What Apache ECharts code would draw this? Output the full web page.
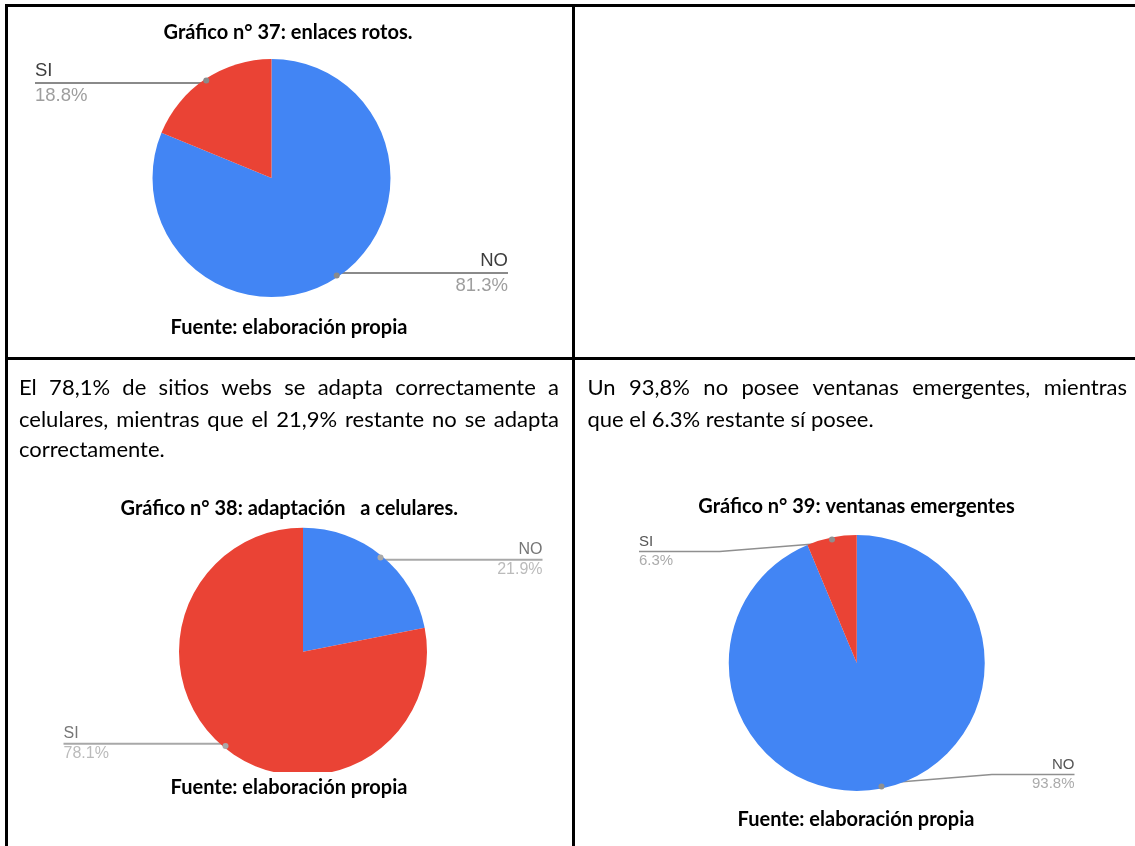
<!DOCTYPE html>
<html>
<head>
<meta charset="utf-8">
<title>Gráficos 37–39</title>
<script src="https://cdn.jsdelivr.net/npm/echarts@6/dist/echarts.min.js"></script>
<style>
  html, body { margin: 0; padding: 0; background: #ffffff; }
  #chart { width: 1135px; height: 846px; }
</style>
</head>
<body>
<div id="chart"></div>
<script>
// Gráfico n° 37: enlaces rotos
const enlacesCategorias = ['NO', 'SI'];
const enlacesValores = [81.3, 18.8];

// Gráfico n° 38: adaptación a celulares
const celularesCategorias = ['NO', 'SI'];
const celularesValores = [21.9, 78.1];

// Gráfico n° 39: ventanas emergentes
const ventanasCategorias = ['NO', 'SI'];
const ventanasValores = [93.8, 6.3];

// Texts of the table
const titulos = [
  'Gráfico n° 37: enlaces rotos.',
  'Gráfico n° 38: adaptación   a celulares.',
  'Gráfico n° 39: ventanas emergentes'
];
const fuente = 'Fuente: elaboración propia';
const parrafoCelulares = [
  'El 78,1% de sitios webs se adapta correctamente a',
  'celulares, mientras que el 21,9% restante no se adapta',
  'correctamente.'
];
const parrafoVentanas = [
  'Un 93,8% no posee ventanas emergentes, mientras',
  'que el 6.3% restante sí posee.'
];

const COLORS = ['#4285F4', '#EA4335'];
const LABEL_FONT = '"Liberation Sans", Arial, sans-serif';
const TITLE_FONT = 'bold 20px Lato, "Open Sans", sans-serif';
const BODY_FONT = '22px Lato, "Open Sans", sans-serif';

// Layout of each pie: box (label edges), radius, label styling, leader offsets
const pies = [
  { names: enlacesCategorias, values: enlacesValores,
    box: { left: 35, top: 28, width: 473, height: 300 }, radius: 119,
    fontSize: 18.5, lineHeight: 25, nameColor: '#3d3d3d', valueColor: '#9e9e9e',
    lineColor: '#8a8a8a', lineWidth: 2, leader: [[0, 0], [0, 0]] },
  { names: celularesCategorias, values: celularesValores,
    box: { left: 63.5, top: 501.7, width: 479, height: 300 }, radius: 124,
    fontSize: 16, lineHeight: 20, nameColor: '#767676', valueColor: '#bbbbbb',
    lineColor: '#a8a8a8', lineWidth: 2, leader: [[0, 0], [0, 0]] },
  { names: ventanasCategorias, values: ventanasValores,
    box: { left: 639, top: 513, width: 435.5, height: 300 }, radius: 128,
    fontSize: 15, lineHeight: 19, nameColor: '#555555', valueColor: '#ababab',
    lineColor: '#8f8f8f', lineWidth: 1.5, leader: [[-9, 111], [9, 113]] }
];

const DOT_RATIO = 0.96;

function buildPie(cfg) {
  const total = cfg.values.reduce((a, b) => a + b, 0);
  let cum = 0;
  const sides = cfg.values.map(v => {
    const mid = (cum + v / 2) / total;
    cum += v;
    return mid < 0.5 ? 'right' : 'left';
  });
  const cx = cfg.box.left + cfg.box.width / 2;
  const cy = cfg.box.top + cfg.box.height / 2;

  const data = cfg.names.map((n, i) => ({
    name: n,
    value: cfg.values[i],
    itemStyle: { color: COLORS[i] },
    label: {
      rich: {
        n: { fontFamily: LABEL_FONT, fontSize: cfg.fontSize, lineHeight: cfg.lineHeight, color: cfg.nameColor, align: sides[i] },
        v: { fontFamily: LABEL_FONT, fontSize: cfg.fontSize, lineHeight: cfg.lineHeight, color: cfg.valueColor, align: sides[i] }
      }
    }
  }));

  const main = {
    type: 'pie',
    left: cfg.box.left, top: cfg.box.top, width: cfg.box.width, height: cfg.box.height,
    center: ['50%', '50%'],
    radius: cfg.radius,
    startAngle: 90,
    clockwise: true,
    avoidLabelOverlap: false,
    silent: true,
    data: data,
    itemStyle: { borderWidth: 0 },
    label: {
      show: true,
      position: 'outer',
      alignTo: 'edge',
      edgeDistance: 0,
      formatter: p => '{n|' + p.name + '}\n{v|' + p.value.toFixed(1) + '%}'
    },
    labelLine: {
      show: true, length: 0, length2: 0, smooth: false,
      lineStyle: { color: cfg.lineColor, width: cfg.lineWidth }
    },
    // leader from a dot inside the slice, running under the whole label
    labelLayout: function (p) {
      const pts = p.labelLinePoints;
      if (!pts) return {};
      const r = p.labelRect;
      const dx = cx + (pts[0][0] - cx) * DOT_RATIO;
      const dy = cy + (pts[0][1] - cy) * DOT_RATIO;
      const lead = cfg.leader[p.dataIndex];
      const right = (r.x + r.width / 2) > cx;
      const ly = dy + lead[0];
      const kx = dx + (right ? lead[1] : -lead[1]);
      const ex = right ? r.x + r.width : r.x;
      return { y: ly, labelLinePoints: [[dx, dy], [kx, ly], [ex, ly]] };
    }
  };

  // transparent ring whose inside labels mark the leader origins
  const dots = {
    type: 'pie',
    left: cfg.box.left, top: cfg.box.top, width: cfg.box.width, height: cfg.box.height,
    center: ['50%', '50%'],
    radius: [cfg.radius * (2 * DOT_RATIO - 1), cfg.radius],
    startAngle: 90,
    clockwise: true,
    silent: true,
    z: 3,
    data: cfg.names.map((n, i) => ({ name: n, value: cfg.values[i] })),
    itemStyle: { color: 'rgba(0,0,0,0)', borderWidth: 0 },
    label: {
      show: true, position: 'inside', rotate: 0,
      formatter: '{d|}',
      rich: { d: { width: 6, height: 6, borderRadius: 3, backgroundColor: cfg.lineColor } }
    },
    labelLine: { show: false },
    emphasis: { disabled: true }
  };
  return [main, dots];
}

// ---- text helpers ----
const measureCtx = document.createElement('canvas').getContext('2d');

function textEl(text, x, y, font, align) {
  return {
    type: 'text', z: 20,
    style: {
      text: text, x: x, y: y, font: font, fill: '#000000',
      align: align, textAlign: align,
      verticalAlign: 'middle', textVerticalAlign: 'middle'
    }
  };
}

function justified(lines, left, width, ys, font) {
  measureCtx.font = font;
  const space = measureCtx.measureText(' ').width;
  const els = [];
  lines.forEach((line, li) => {
    const words = line.split(' ');
    const widths = words.map(w => measureCtx.measureText(w).width);
    const last = li === lines.length - 1;
    const sum = widths.reduce((a, b) => a + b, 0);
    const gap = (last || words.length < 2) ? space : (width - sum) / (words.length - 1);
    let x = left;
    words.forEach((w, i) => {
      els.push(textEl(w, x, ys[li], font, 'left'));
      x += widths[i] + gap;
    });
  });
  return els;
}

function rect(x, y, w, h, fill, z) {
  return { type: 'rect', z: z, shape: { x: x, y: y, width: w, height: h }, style: { fill: fill } };
}

const graphics = [
  // table rules
  rect(5, 4, 1130, 3, '#000000', 30),
  rect(5, 4, 3, 842, '#000000', 30),
  rect(572, 4, 3, 842, '#000000', 30),
  rect(5, 357, 1130, 3, '#000000', 30),
  // lower edge of the cropped chart image in the second cell
  rect(170, 772, 270, 8, '#ffffff', 10),
  // titles and source notes
  textEl(titulos[0], 288, 33, TITLE_FONT, 'center'),
  textEl(fuente, 289, 327.3, TITLE_FONT, 'center'),
  textEl(titulos[1], 289.3, 509, TITLE_FONT, 'center'),
  textEl(fuente, 289, 787.3, TITLE_FONT, 'center'),
  textEl(titulos[2], 856.5, 506.3, TITLE_FONT, 'center'),
  textEl(fuente, 856, 819.6, TITLE_FONT, 'center')
].concat(
  justified(parrafoCelulares, 19, 540, [388, 419.5, 450], BODY_FONT),
  justified(parrafoVentanas, 587.5, 539.5, [388, 419.5], BODY_FONT)
);

const chart = echarts.init(document.getElementById('chart'), null, { renderer: 'canvas' });
chart.setOption({
  backgroundColor: '#ffffff',
  animation: false,
  series: [].concat(buildPie(pies[0]), buildPie(pies[1]), buildPie(pies[2])),
  graphic: { elements: graphics }
});
</script>
</body>
</html>
